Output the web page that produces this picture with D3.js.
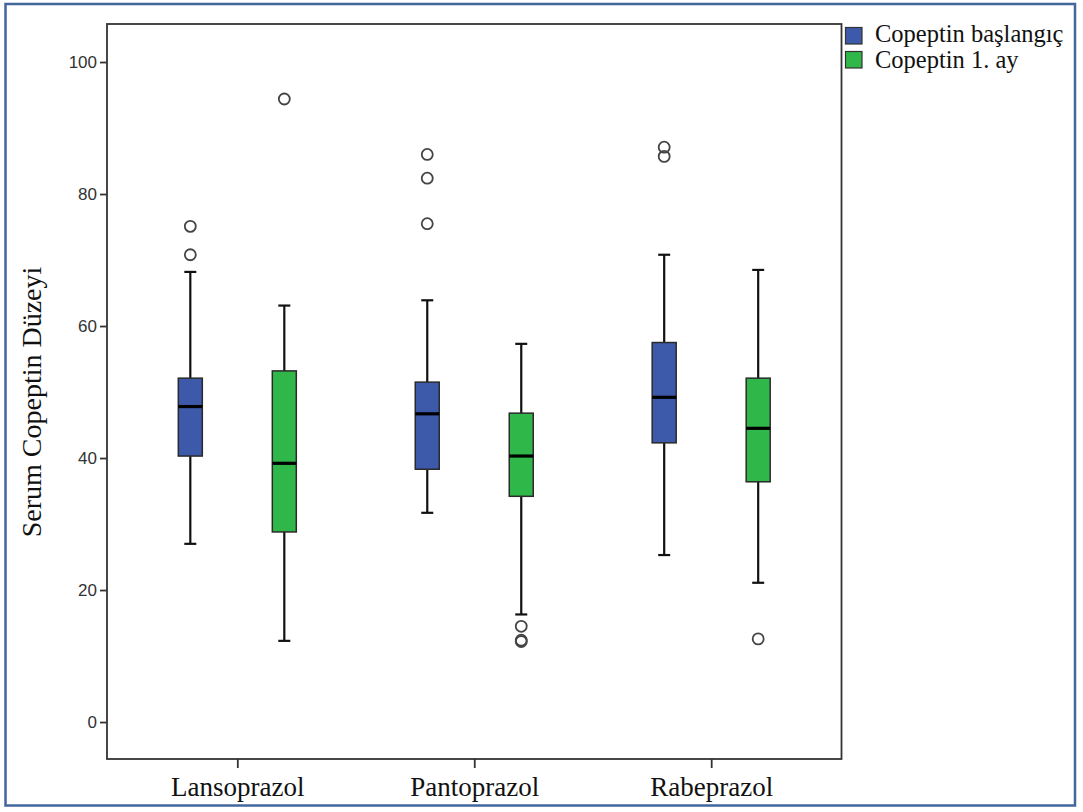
<!DOCTYPE html>
<html>
<head>
<meta charset="utf-8">
<script src="https://cdn.jsdelivr.net/npm/d3@7"></script>
<style>
  html, body { margin: 0; padding: 0; background: #fff; }
  svg { display: block; }
</style>
</head>
<body>
<svg id="chart" width="1083" height="812"></svg>
<script>
// ---- Data ----
const groups = ["Lansoprazol", "Pantoprazol", "Rabeprazol"];
const seriesNames = ["Copeptin başlangıç", "Copeptin 1. ay"];
const yTicks = [0, 20, 40, 60, 80, 100];

// Copeptin başlangıç
const basMin = [27.0, 31.7, 25.3];
const basQ1 = [40.3, 38.3, 42.3];
const basMedian = [47.8, 46.7, 49.2];
const basQ3 = [52.1, 51.5, 57.5];
const basMax = [68.2, 63.9, 70.8];
const basOutliers = [[75.1, 70.8], [86.0, 82.4, 75.5], [87.1, 85.7]];

// Copeptin 1. ay
const ayMin = [12.3, 16.3, 21.1];
const ayQ1 = [28.8, 34.2, 36.4];
const ayMedian = [39.2, 40.3, 44.5];
const ayQ3 = [53.2, 46.8, 52.1];
const ayMax = [63.1, 57.3, 68.5];
const ayOutliers = [[94.4], [14.5, 12.4, 12.2], [12.6]];

const colors = ["#3d59aa", "#30b74a"];

// ---- Build records ----
const stats = [
  { min: basMin, q1: basQ1, med: basMedian, q3: basQ3, max: basMax, out: basOutliers },
  { min: ayMin, q1: ayQ1, med: ayMedian, q3: ayQ3, max: ayMax, out: ayOutliers }
];
const boxes = [];
groups.forEach((g, gi) => {
  seriesNames.forEach((s, si) => {
    const st = stats[si];
    boxes.push({ group: g, series: s, si,
      min: st.min[gi], q1: st.q1[gi], med: st.med[gi], q3: st.q3[gi], max: st.max[gi],
      outliers: st.out[gi] });
  });
});

// ---- Layout ----
const svg = d3.select("#chart");
const plot = { left: 107, right: 841.5, top: 24, bottom: 759 };

const x = d3.scalePoint().domain(groups).range([plot.left, plot.right]).padding(0.55);
const xs = d3.scalePoint().domain(seriesNames).range([-47, 47]);
const y = d3.scaleLinear().domain([-5.6, 105.76]).range([plot.bottom, plot.top]);

const boxW = 24, capW = 12;

// outer border
svg.append("rect")
  .attr("x", 5.5).attr("y", 4).attr("width", 1069.5).attr("height", 801.5)
  .attr("fill", "none").attr("stroke", "#41679c").attr("stroke-width", 2.5);

// plot frame
svg.append("rect")
  .attr("x", plot.left).attr("y", plot.top)
  .attr("width", plot.right - plot.left).attr("height", plot.bottom - plot.top)
  .attr("fill", "none").attr("stroke", "#333").attr("stroke-width", 1.8);

// y axis
const yAxis = d3.axisLeft(y).tickValues(yTicks).tickSize(7).tickPadding(3);
const gy = svg.append("g").attr("transform", `translate(${plot.left},0)`).call(yAxis);
gy.select(".domain").remove();
gy.selectAll(".tick line").attr("stroke", "#333").attr("stroke-width", 1.8);
gy.selectAll(".tick text")
  .attr("font-family", "'Liberation Sans', Arial, sans-serif")
  .attr("font-size", 17).attr("fill", "#333");

// x axis
const xAxis = d3.axisBottom(x).tickSize(9).tickPadding(9);
const gx = svg.append("g").attr("transform", `translate(0,${plot.bottom})`).call(xAxis);
gx.select(".domain").remove();
gx.selectAll(".tick line").attr("stroke", "#333").attr("stroke-width", 1.8);
gx.selectAll(".tick text")
  .attr("font-family", "'Liberation Serif', 'Times New Roman', serif")
  .attr("font-size", 27).attr("fill", "#111");

// y label
svg.append("text")
  .attr("transform", `translate(41,402) rotate(-90)`)
  .attr("text-anchor", "middle")
  .attr("font-family", "'Liberation Serif', 'Times New Roman', serif")
  .attr("font-size", 28).attr("fill", "#111")
  .text("Serum Copeptin Düzeyi");

// boxes
const bg = svg.append("g").selectAll("g").data(boxes).join("g")
  .attr("transform", d => `translate(${x(d.group) + xs(d.series)},0)`);

// whiskers
bg.append("line").attr("x1", 0).attr("x2", 0)
  .attr("y1", d => y(d.q3)).attr("y2", d => y(d.max))
  .attr("stroke", "#111").attr("stroke-width", 2.2);
bg.append("line").attr("x1", 0).attr("x2", 0)
  .attr("y1", d => y(d.q1)).attr("y2", d => y(d.min))
  .attr("stroke", "#111").attr("stroke-width", 2.2);
bg.append("line").attr("x1", -capW / 2).attr("x2", capW / 2)
  .attr("y1", d => y(d.max)).attr("y2", d => y(d.max))
  .attr("stroke", "#111").attr("stroke-width", 2.2);
bg.append("line").attr("x1", -capW / 2).attr("x2", capW / 2)
  .attr("y1", d => y(d.min)).attr("y2", d => y(d.min))
  .attr("stroke", "#111").attr("stroke-width", 2.2);

// box
bg.append("rect")
  .attr("x", -boxW / 2).attr("width", boxW)
  .attr("y", d => y(d.q3)).attr("height", d => y(d.q1) - y(d.q3))
  .attr("fill", d => colors[d.si]).attr("stroke", "#2a2a2a").attr("stroke-width", 1.5);

// median
bg.append("line").attr("x1", -boxW / 2).attr("x2", boxW / 2)
  .attr("y1", d => y(d.med)).attr("y2", d => y(d.med))
  .attr("stroke", "#000").attr("stroke-width", 3.2);

// outliers
bg.selectAll("circle").data(d => d.outliers).join("circle")
  .attr("cx", 0).attr("cy", v => y(v)).attr("r", 5.5)
  .attr("fill", "none").attr("stroke", "#444").attr("stroke-width", 1.8);

// legend
const lg = svg.append("g").selectAll("g").data(seriesNames).join("g");
lg.append("rect")
  .attr("x", 845.5).attr("y", (d, i) => 27.5 + i * 24)
  .attr("width", 16.5).attr("height", 16.5)
  .attr("fill", (d, i) => colors[i]).attr("stroke", "#333").attr("stroke-width", 1.2);
lg.append("text").attr("x", 875).attr("y", (d, i) => 42 + i * 26)
  .attr("font-family", "'Liberation Serif', 'Times New Roman', serif")
  .attr("font-size", 24.5).attr("fill", "#111")
  .text(d => d);
</script>
</body>
</html>
